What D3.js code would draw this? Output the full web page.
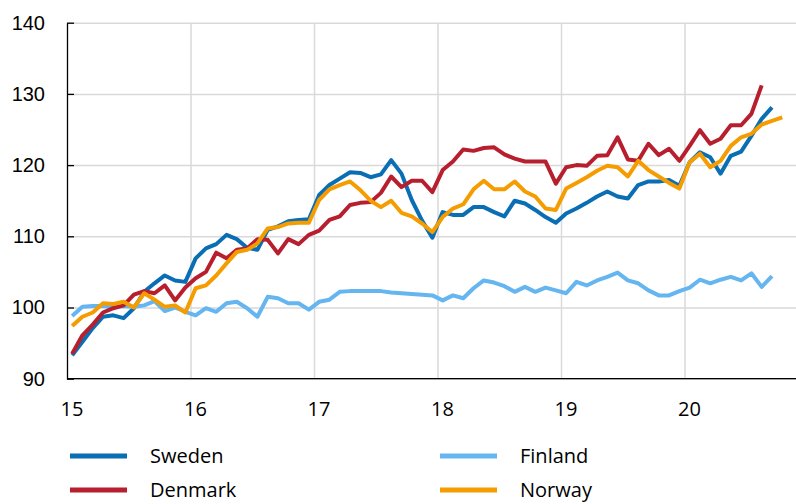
<!DOCTYPE html>
<html>
<head>
<meta charset="utf-8">
<script src="https://cdn.jsdelivr.net/npm/d3@7"></script>
<style>
  body { margin: 0; background: #fff; }
  svg { display: block; font-family: "Open Sans", sans-serif; }
  .grid line { stroke: #d9d9d9; stroke-width: 1.5; }
  .grid .domain { display: none; }
  .tick text { font-size: 20px; fill: #000; }
</style>
</head>
<body>
<svg id="chart" width="796" height="504"></svg>
<script>
// monthly index values, first point = Jan 2015
const sweden = [
  93.3, 95.2, 97.1, 98.7, 98.9, 98.5, 99.9, 102.2, 103.4, 104.5, 103.8, 103.6,
  106.9, 108.3, 108.9, 110.2, 109.6, 108.4, 108.1, 110.9, 111.4, 112.1, 112.3, 112.4,
  115.8, 117.2, 118.1, 119.0, 118.9, 118.3, 118.7, 120.7, 118.8, 115.1, 112.2, 109.8,
  113.4, 113.0, 113.0, 114.1, 114.1, 113.4, 112.8, 115.0, 114.6, 113.7, 112.7, 111.9,
  113.2, 113.9, 114.7, 115.6, 116.3, 115.6, 115.3, 117.2, 117.7, 117.7, 117.9, 117.1,
  120.4, 121.8, 121.1, 118.8, 121.3, 121.9, 124.1, 126.5, 128.1
];
const denmark = [
  93.5, 96.1, 97.6, 99.3, 99.9, 100.3, 101.8, 102.3, 102.0, 103.1, 101.0, 102.8,
  104.1, 105.0, 107.7, 106.9, 108.1, 108.3, 109.6, 109.5, 107.6, 109.6, 108.9, 110.2,
  110.8, 112.3, 112.8, 114.4, 114.7, 114.8, 116.1, 118.4, 116.9, 117.8, 117.8, 116.2,
  119.3, 120.5, 122.2, 122.0, 122.4, 122.5, 121.5, 120.9, 120.5, 120.5, 120.5, 117.4,
  119.7, 120.0, 119.9, 121.3, 121.4, 123.9, 120.8, 120.6, 123.0, 121.4, 122.3, 120.6,
  122.7, 124.9, 123.0, 123.7, 125.6, 125.6, 127.2, 131.2
];
const finland = [
  98.8, 100.1, 100.2, 100.2, 100.1, 100.2, 100.1, 100.3, 100.9, 99.5, 100.0, 99.4,
  98.9, 99.9, 99.4, 100.6, 100.8, 99.9, 98.7, 101.5, 101.3, 100.6, 100.6, 99.7,
  100.8, 101.1, 102.2, 102.3, 102.3, 102.3, 102.3, 102.1, 102.0, 101.9, 101.8, 101.7,
  101.0, 101.7, 101.3, 102.7, 103.8, 103.5, 103.0, 102.2, 102.9, 102.2, 102.8, 102.4,
  102.0, 103.6, 103.1, 103.8, 104.3, 104.9, 103.8, 103.4, 102.4, 101.7, 101.7, 102.3,
  102.8, 103.9, 103.4, 103.9, 104.3, 103.8, 104.8, 102.9, 104.4
];
const norway = [
  97.4, 98.7, 99.3, 100.6, 100.5, 100.8, 100.0, 102.0, 101.1, 100.1, 100.3, 99.3,
  102.7, 103.1, 104.5, 106.2, 107.8, 108.1, 109.0, 111.1, 111.3, 111.8, 111.9, 111.9,
  115.1, 116.6, 117.2, 117.7, 116.5, 115.0, 114.1, 115.0, 113.3, 112.8, 111.8, 110.6,
  112.7, 113.9, 114.5, 116.6, 117.8, 116.6, 116.6, 117.7, 116.3, 115.6, 113.9, 113.7,
  116.7, 117.5, 118.3, 119.2, 119.9, 119.7, 118.4, 120.6, 119.3, 118.4, 117.5, 116.7,
  120.4, 121.6, 119.7, 120.6, 122.7, 123.9, 124.4, 125.7, 126.2, 126.7
];
const xTicks = [15, 16, 17, 18, 19, 20];
const yTicks = [90, 100, 110, 120, 130, 140];

const series = [
  { name: "Sweden", values: sweden, color: "#0a6eb4" },
  { name: "Finland", values: finland, color: "#64b5f0" },
  { name: "Denmark", values: denmark, color: "#b81f2e" },
  { name: "Norway", values: norway, color: "#f59d00" }
];

const svg = d3.select("#chart");
const plotLeft = 67, plotTop = 22.7, plotBottom = 378.7;

const x = d3.scaleLinear().domain([15, 21]).range([plotLeft, plotLeft + 6 * 123.5]);
const y = d3.scaleLinear().domain([90, 140]).range([plotBottom, plotTop]);

// horizontal gridlines
svg.append("g")
  .attr("class", "grid")
  .attr("transform", `translate(${plotLeft},0)`)
  .call(d3.axisRight(y).tickValues(yTicks).tickSize(796 - plotLeft).tickFormat(""));

// vertical gridlines
svg.append("g")
  .attr("class", "grid")
  .attr("transform", `translate(0,${plotTop})`)
  .call(d3.axisBottom(x).tickValues(xTicks.slice(1)).tickSize(plotBottom - plotTop).tickFormat(""));

// y axis with inside ticks
const yAxis = svg.append("g")
  .attr("transform", `translate(${plotLeft},0)`)
  .call(d3.axisLeft(y).tickValues(yTicks).tickSizeInner(-7).tickSizeOuter(0).tickPadding(22));
yAxis.select(".domain").attr("stroke", "#000").attr("stroke-width", 1.3);
yAxis.selectAll(".tick line").attr("stroke", "#000").attr("stroke-width", 1.3);

// x axis line
svg.append("line")
  .attr("x1", plotLeft).attr("x2", 796)
  .attr("y1", plotBottom).attr("y2", plotBottom)
  .attr("stroke", "#000").attr("stroke-width", 1.3);

// x labels
svg.append("g")
  .selectAll("text")
  .data(xTicks)
  .join("text")
  .attr("x", d => x(d + 0.04))
  .attr("y", 416)
  .attr("text-anchor", "middle")
  .attr("font-size", 20)
  .attr("fill", "#000")
  .text(d => d);

const line = d3.line()
  .x((d, i) => x(15 + (i + 0.5) / 12))
  .y(d => y(d));

// draw order: Sweden, Finland, Denmark, Norway
for (const s of series) {
  svg.append("path")
    .datum(s.values)
    .attr("fill", "none")
    .attr("stroke", s.color)
    .attr("stroke-width", 4)
    .attr("stroke-linejoin", "round")
    .attr("d", line);
}

// legend
const legendPos = {
  Sweden: [70, 456], Finland: [440, 456],
  Denmark: [70, 490], Norway: [440, 490]
};
for (const s of series) {
  const [lx, ly] = legendPos[s.name];
  svg.append("line")
    .attr("x1", lx).attr("x2", lx + 57)
    .attr("y1", ly).attr("y2", ly)
    .attr("stroke", s.color)
    .attr("stroke-width", 5);
  svg.append("text")
    .attr("x", lx + 80)
    .attr("y", ly + 7)
    .attr("font-size", 20)
    .attr("fill", "#000")
    .text(s.name);
}
</script>
</body>
</html>
